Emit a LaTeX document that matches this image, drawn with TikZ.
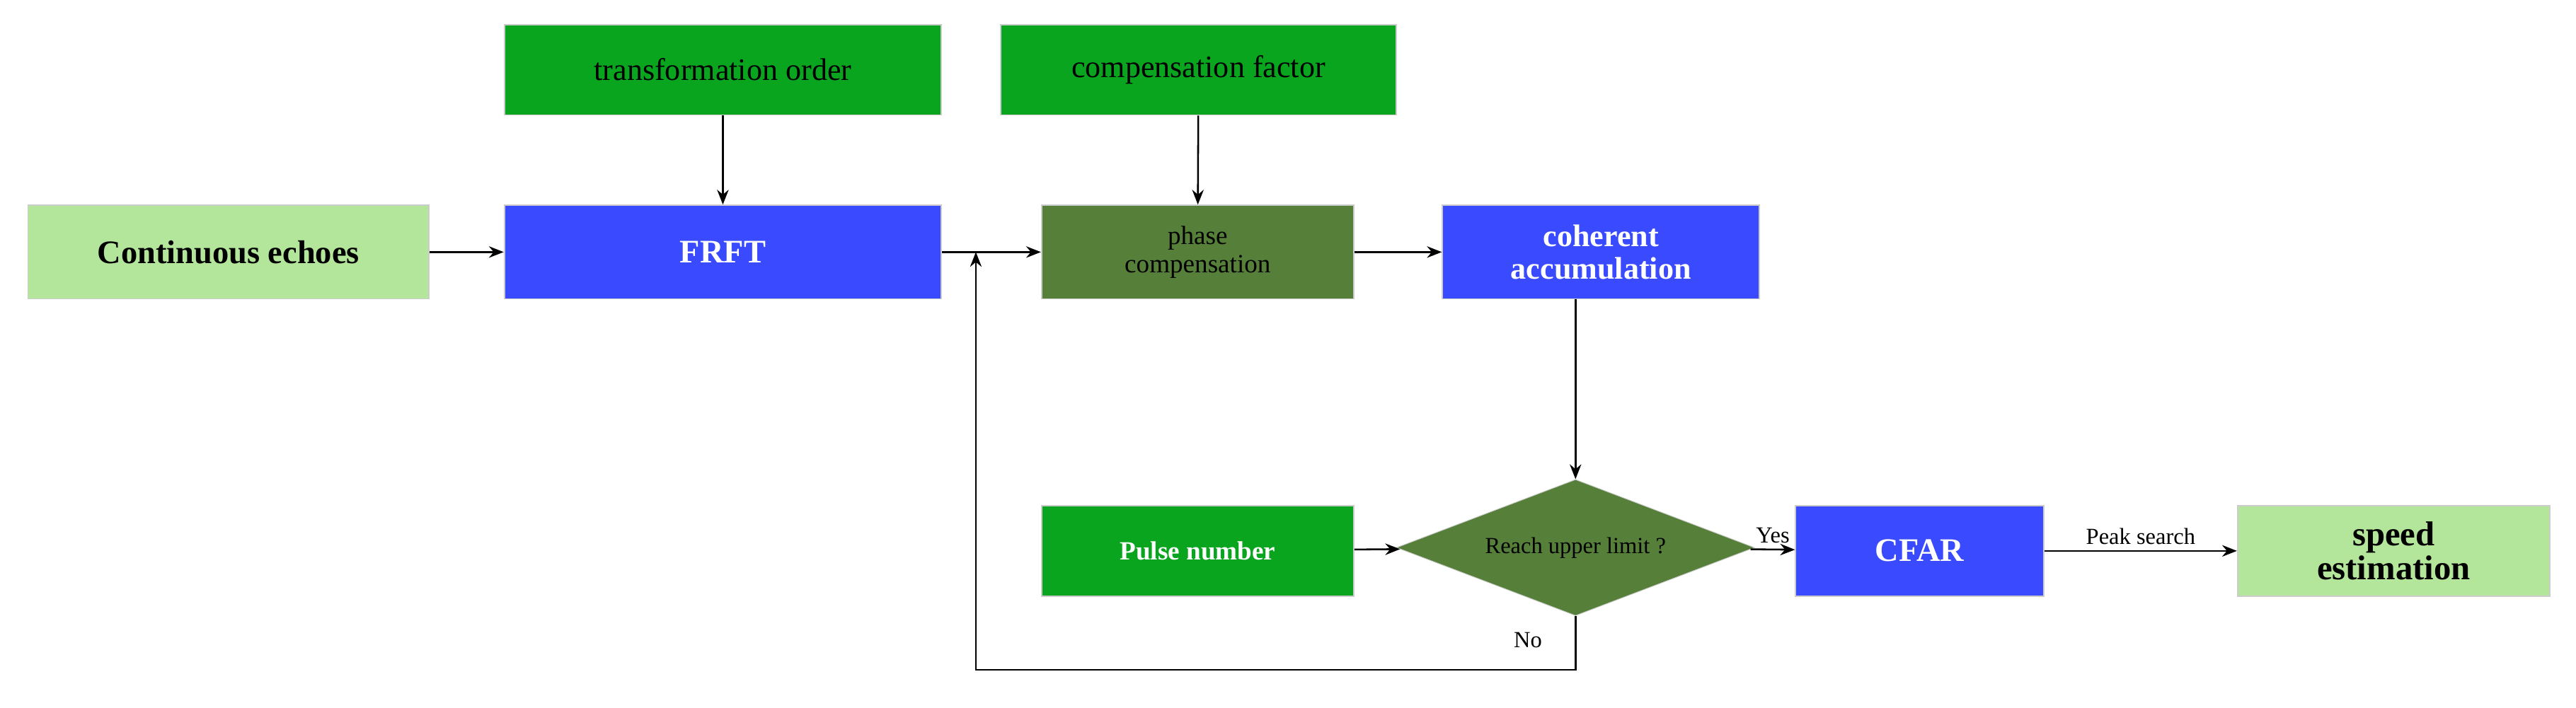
\documentclass[tikz,border=0pt]{standalone}
\usetikzlibrary{shapes.geometric,arrows.meta}
\usepackage{fontspec}
\setmainfont{Liberation Serif}
\definecolor{lg}{HTML}{B3E59A}
\definecolor{bl}{HTML}{3A4BFF}
\definecolor{gr}{HTML}{0AA51F}
\definecolor{ol}{HTML}{56803A}
\begin{document}
\begin{tikzpicture}[x=1pt,y=-1pt,
  box/.style={draw=gray!40,line width=0.8pt,minimum width=#1,inner sep=0pt,align=center},
  b/.style={box=#1,minimum height=57pt},
  ar/.style={-{Stealth[length=9pt,width=7pt]},line width=1.1pt},
  wt/.style={text=white,font=\bfseries\fontsize{18}{18}\selectfont}]
\useasboundingbox (0,0) rectangle (1568,431);
\node[b=244pt,fill=lg,font=\bfseries\fontsize{20}{22}\selectfont] (ce) at (139,153.5) {Continuous echoes};
\node[b=266pt,fill=bl,wt,font=\bfseries\fontsize{20}{22}\selectfont] (fr) at (440,153.5) {FRFT};
\node[box=266pt,minimum height=55pt,fill=gr,font=\fontsize{19}{21}\selectfont] (to) at (440,42.5) {transformation order};
\node[box=241pt,minimum height=55pt,fill=gr,font=\fontsize{19}{21}\selectfont] (cf) at (729.5,42.5) {compensation factor};
\node[b=190pt,fill=ol,font=\fontsize{16}{17}\selectfont] (pc) at (729,153.5) {phase\\compensation};
\node[b=193pt,fill=bl,wt,font=\bfseries\fontsize{19}{20}\selectfont] (ca) at (974.5,153.5) {coherent\\accumulation};
\node[box=190pt,minimum height=55pt,fill=gr,wt,font=\bfseries\fontsize{16}{18}\selectfont] (pn) at (729,335.5) {Pulse number};
\node[diamond,draw=gray!40,fill=ol,minimum width=218pt,minimum height=83pt,aspect=2.6,inner sep=0pt,font=\fontsize{14}{16}\selectfont] (dm) at (959,333.5) {};
\node[font=\fontsize{14}{16}\selectfont] at (959,333.5) {Reach upper limit ?};
\node[box=151pt,minimum height=55pt,fill=bl,wt,font=\bfseries\fontsize{20}{22}\selectfont] (cfar) at (1168.5,335.5) {CFAR};
\node[box=190pt,minimum height=55pt,fill=lg,font=\bfseries\fontsize{21}{21}\selectfont] (se) at (1457,335.5) {speed\\estimation};
\coordinate (j) at (594,153.5);
\coordinate (c1) at (594,408);
\coordinate (c2) at (959,408);
\draw[ar] (ce) -- (fr);
\draw[ar] (to) -- (fr);
\draw[ar] (cf) -- (pc);
\draw[ar] (fr) -- (pc);
\draw[ar] (pc) -- (ca);
\draw[ar] (959,182) -- (dm.north);
\draw[ar] (pn) -- (dm);
\draw[ar] (dm) -- node[above,font=\fontsize{14}{16}\selectfont]{Yes} (cfar);
\draw[ar] (cfar) -- node[above,font=\fontsize{14}{16}\selectfont]{Peak search} (se);
\draw[ar] (dm.south) -- (c2) -- (c1) -- (j);
\node[font=\fontsize{14}{16}\selectfont] (no) at (930,390) {No};
\end{tikzpicture}
\end{document}
